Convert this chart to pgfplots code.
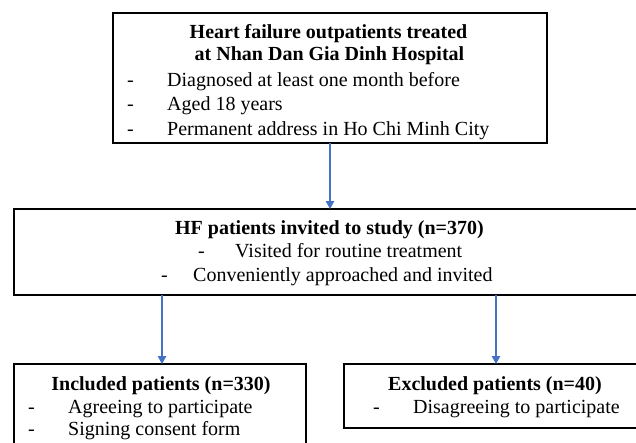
\documentclass[border=0pt]{standalone}
\usepackage{pgfplots}
\pgfplotsset{compat=1.18}
\usepackage{fontspec}
\setmainfont{Liberation Serif}
\usetikzlibrary{arrows.meta}
\definecolor{arr}{HTML}{4472C4}
\begin{document}
\begin{tikzpicture}
\useasboundingbox (0,0) rectangle (636pt,442pt);
\begin{axis}[at={(0,0)}, anchor=south west, width=636pt, height=442pt,
  scale only axis, xmin=0, xmax=636, ymin=0, ymax=442, y dir=reverse,
  hide axis, clip=true]
\tikzset{t/.style={inner sep=0pt, font=\fontsize{20}{24}\selectfont, anchor=base west},
         tc/.style={inner sep=0pt, font=\fontsize{20}{24}\selectfont\bfseries, anchor=base},
         box/.style={draw=black, line width=1.1pt},
         ar/.style={draw=arr, line width=1.2pt, -{Triangle[width=8.5pt,length=8pt]}}}
% boxes
\draw[box] (axis cs:113,13) rectangle (axis cs:547,143);
\draw[box] (axis cs:14,209) rectangle (axis cs:660,295);
\draw[black, line width=1.8pt] (axis cs:14,295) -- (axis cs:660,295);
\draw[box] (axis cs:14,364) rectangle (axis cs:306,470);
\draw[box] (axis cs:344,364) rectangle (axis cs:660,428);
% arrows
\draw[ar] (axis cs:330,143) -- (axis cs:330,209);
\draw[ar] (axis cs:162,295) -- (axis cs:162,364);
\draw[ar] (axis cs:496,295) -- (axis cs:496,364);
% top box text
\node[tc] at (axis cs:328.5,38) {Heart failure outpatients treated};
\node[tc] at (axis cs:329.5,60) {at Nhan Dan Gia Dinh Hospital};
\node[t] at (axis cs:127,86) {-};
\node[t] at (axis cs:167,86) {Diagnosed at least one month before};
\node[t] at (axis cs:127,110) {-};
\node[t] at (axis cs:167,110) {Aged 18 years};
\node[t] at (axis cs:127,135) {-};
\node[t] at (axis cs:167,135) {Permanent address in Ho Chi Minh City};
% middle box text
\node[tc] at (axis cs:329.5,234) {HF patients invited to study (n=370)};
\node[t] at (axis cs:198,257) {-};
\node[t] at (axis cs:235,257) {Visited for routine treatment};
\node[t] at (axis cs:161,281) {-};
\node[t] at (axis cs:193,281) {Conveniently approached and invited};
% bottom left
\node[tc] at (axis cs:161,390) {Included patients (n=330)};
\node[t] at (axis cs:28,413) {-};
\node[t] at (axis cs:68,413) {Agreeing to participate};
\node[t] at (axis cs:28,435) {-};
\node[t] at (axis cs:68,435) {Signing consent form};
% bottom right
\node[tc] at (axis cs:495,390) {Excluded patients (n=40)};
\node[t] at (axis cs:373,413) {-};
\node[t] at (axis cs:413,413) {Disagreeing to participate};
\end{axis}
\end{tikzpicture}
\end{document}
